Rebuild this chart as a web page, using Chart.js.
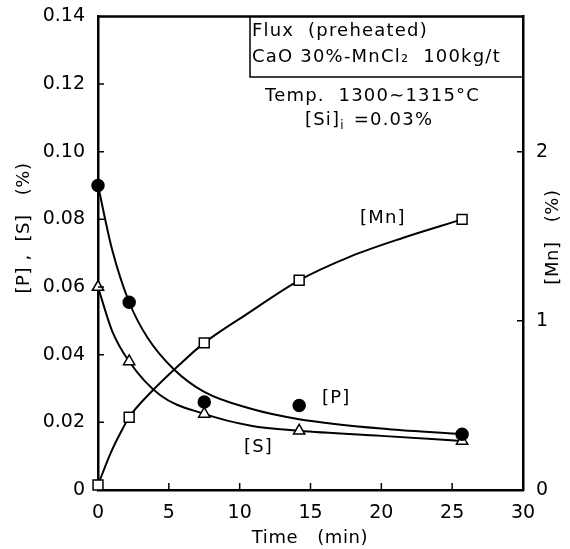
<!DOCTYPE html>
<html lang="en">
<head>
<meta charset="UTF-8">
<title>[P], [S], [Mn] vs Time</title>
<script src="https://cdn.jsdelivr.net/npm/chart.js"></script>
<style>
    html, body { margin: 0; padding: 0; background: #fff; }
    #wrap { width: 570px; height: 549px; }
</style>
</head>
<body>
<div id="wrap"><canvas id="chart"></canvas></div>
<script>
// measured points (min, %)
const timePts = [0, 2.2, 7.5, 14.2, 25.7];
const valP = [0.090, 0.0555, 0.026, 0.025, 0.0165];
const valS = [0.060, 0.038, 0.0225, 0.0175, 0.0145];
const valMn = [0.03, 0.43, 0.87, 1.24, 1.60];

// smoothed curves
const curveTimeP = [0, 1, 2.2, 3.5, 5.35, 7.5, 10.8, 14.1, 20.4, 25.7];
const curveP = [0.090, 0.071, 0.0555, 0.045, 0.0357, 0.029, 0.024, 0.021, 0.018, 0.0165];
const curveTimeS = [0, 1, 2.2, 4.4, 7.5, 10.8, 14.2, 20, 25.7];
const curveS = [0.060, 0.047, 0.038, 0.028, 0.0225, 0.019, 0.0175, 0.016, 0.0145];
const curveTimeMn = [0, 0.9, 1.6, 2.2, 3.7, 5.8, 7.5, 10.5, 14.2, 17.8, 21.5, 25.7];
const curveMn = [0.03, 0.22, 0.34, 0.43, 0.575, 0.745, 0.87, 1.04, 1.24, 1.38, 1.49, 1.60];

const xTicks = [0, 5, 10, 15, 20, 25, 30];
const leftTicks = [0, 0.02, 0.04, 0.06, 0.08, 0.10, 0.12, 0.14];
const rightTicks = [0, 1, 2];

const FONT = "'DejaVu Sans', sans-serif";

function pts(xs, ys) { return xs.map((x, i) => ({ x: x, y: ys[i] })); }

const decor = {
    id: 'decor',
    afterDraw(chart) {
        const { ctx, chartArea: a, scales } = chart;
        ctx.save();
        ctx.strokeStyle = '#000';
        ctx.fillStyle = '#000';
        ctx.lineWidth = 2.5;
        ctx.beginPath();
        ctx.moveTo(a.left - 1, a.top); ctx.lineTo(a.right + 1, a.top);
        ctx.stroke();

        // inward tick marks
        ctx.lineWidth = 1.5;
        ctx.beginPath();
        xTicks.forEach(v => {
            if (v <= 0 || v >= 30) return;
            const px = scales.x.getPixelForValue(v);
            ctx.moveTo(px, a.bottom); ctx.lineTo(px, a.bottom - 7);
        });
        leftTicks.forEach(v => {
            if (v <= 0 || v >= 0.14) return;
            const py = scales.y.getPixelForValue(v);
            ctx.moveTo(a.left, py); ctx.lineTo(a.left + 6, py);
        });
        rightTicks.forEach(v => {
            if (v <= 0) return;
            const py = scales.y2.getPixelForValue(v);
            ctx.moveTo(a.right, py); ctx.lineTo(a.right - 6, py);
        });
        ctx.stroke();

        // box with flux
        ctx.lineWidth = 1.5;
        ctx.beginPath();
        ctx.moveTo(250, a.top); ctx.lineTo(250, 77); ctx.lineTo(a.right, 77);
        ctx.stroke();

        ctx.font = '18px ' + FONT;
        ctx.textBaseline = 'middle';
        ctx.textAlign = 'left';
        ctx.letterSpacing = '1.2px';
        ctx.fillText('Flux  (preheated)', 252, 31);
        ctx.fillText('CaO 30%-MnCl\u2082  100kg/t', 252, 57);
        ctx.fillText('Temp.  1300\u223C1315\u00B0C', 265, 96);

        // [Si]i with a real subscript
        let sx = 305;
        ctx.fillText('[Si]', sx, 120);
        sx += ctx.measureText('[Si]').width;
        ctx.font = '12px ' + FONT;
        ctx.fillText('i', sx, 126);
        sx += ctx.measureText('i').width + 2;
        ctx.font = '18px ' + FONT;
        ctx.fillText(' =0.03%', sx, 120);

        // curve labels
        ctx.fillText('[Mn]', 360, 218);
        ctx.fillText('[P]', 322, 398);
        ctx.fillText('[S]', 244, 447);

        // axis titles
        ctx.letterSpacing = '0.6px';
        ctx.textAlign = 'center';
        ctx.fillText('Time   (min)', 310, 538);
        ctx.save();
        ctx.translate(24, 228);
        ctx.rotate(-Math.PI / 2);
        ctx.fillText('[P] ,  [S]   (%)', 0, 0);
        ctx.restore();
        ctx.save();
        ctx.translate(553, 237);
        ctx.rotate(-Math.PI / 2);
        ctx.fillText('[Mn]   (%)', 0, 0);
        ctx.restore();
        ctx.restore();
    }
};

const line = { showLine: true, borderColor: '#000', borderWidth: 2, pointRadius: 0, cubicInterpolationMode: 'monotone', fill: false, clip: false };
const mark = { showLine: false, borderColor: '#000', borderWidth: 1.5, clip: false };

new Chart(document.getElementById('chart'), {
    type: 'scatter',
    data: {
        datasets: [
            Object.assign({ label: 'P', data: pts(timePts, valP), yAxisID: 'y', pointStyle: 'circle', pointRadius: 6, backgroundColor: '#000' }, mark),
            Object.assign({ label: 'S', data: pts(timePts, valS), yAxisID: 'y', pointStyle: 'triangle', pointRadius: 6.5, backgroundColor: '#fff' }, mark),
            Object.assign({ label: 'Mn', data: pts(timePts, valMn), yAxisID: 'y2', pointStyle: 'rect', pointRadius: 7, backgroundColor: '#fff' }, mark),
            Object.assign({ label: 'P curve', data: pts(curveTimeP, curveP), yAxisID: 'y' }, line),
            Object.assign({ label: 'S curve', data: pts(curveTimeS, curveS), yAxisID: 'y' }, line),
            Object.assign({ label: 'Mn curve', data: pts(curveTimeMn, curveMn), yAxisID: 'y2' }, line)
        ]
    },
    options: {
        responsive: true,
        maintainAspectRatio: false,
        animation: false,
        layout: { padding: { top: 14, left: 0, right: 0, bottom: 0 } },
        plugins: { legend: { display: false }, tooltip: { enabled: false } },
        scales: {
            x: {
                type: 'linear', min: 0, max: 30,
                afterBuildTicks: s => { s.ticks = xTicks.map(v => ({ value: v })); },
                afterFit: s => { s.height = 59; },
                grid: { display: false },
                border: { display: true, color: '#000', width: 2.5 },
                ticks: { color: '#000', padding: 4, maxRotation: 0, font: { family: FONT, size: 19 } }
            },
            y: {
                position: 'left', min: 0, max: 0.14,
                afterBuildTicks: s => { s.ticks = leftTicks.map(v => ({ value: v })); },
                afterFit: s => { s.width = 98; },
                grid: { display: false },
                border: { display: true, color: '#000', width: 2.5 },
                ticks: { color: '#000', padding: 5, font: { family: FONT, size: 19 },
                    callback: v => v === 0 ? '0' : v.toFixed(2) }
            },
            y2: {
                position: 'right', min: 0, max: 2.8,
                afterBuildTicks: s => { s.ticks = rightTicks.map(v => ({ value: v })); },
                afterFit: s => { s.width = 47; },
                grid: { display: false },
                border: { display: true, color: '#000', width: 2.5 },
                ticks: { color: '#000', padding: 5, font: { family: FONT, size: 19 } }
            }
        }
    },
    plugins: [decor]
});
</script>
</body>
</html>
